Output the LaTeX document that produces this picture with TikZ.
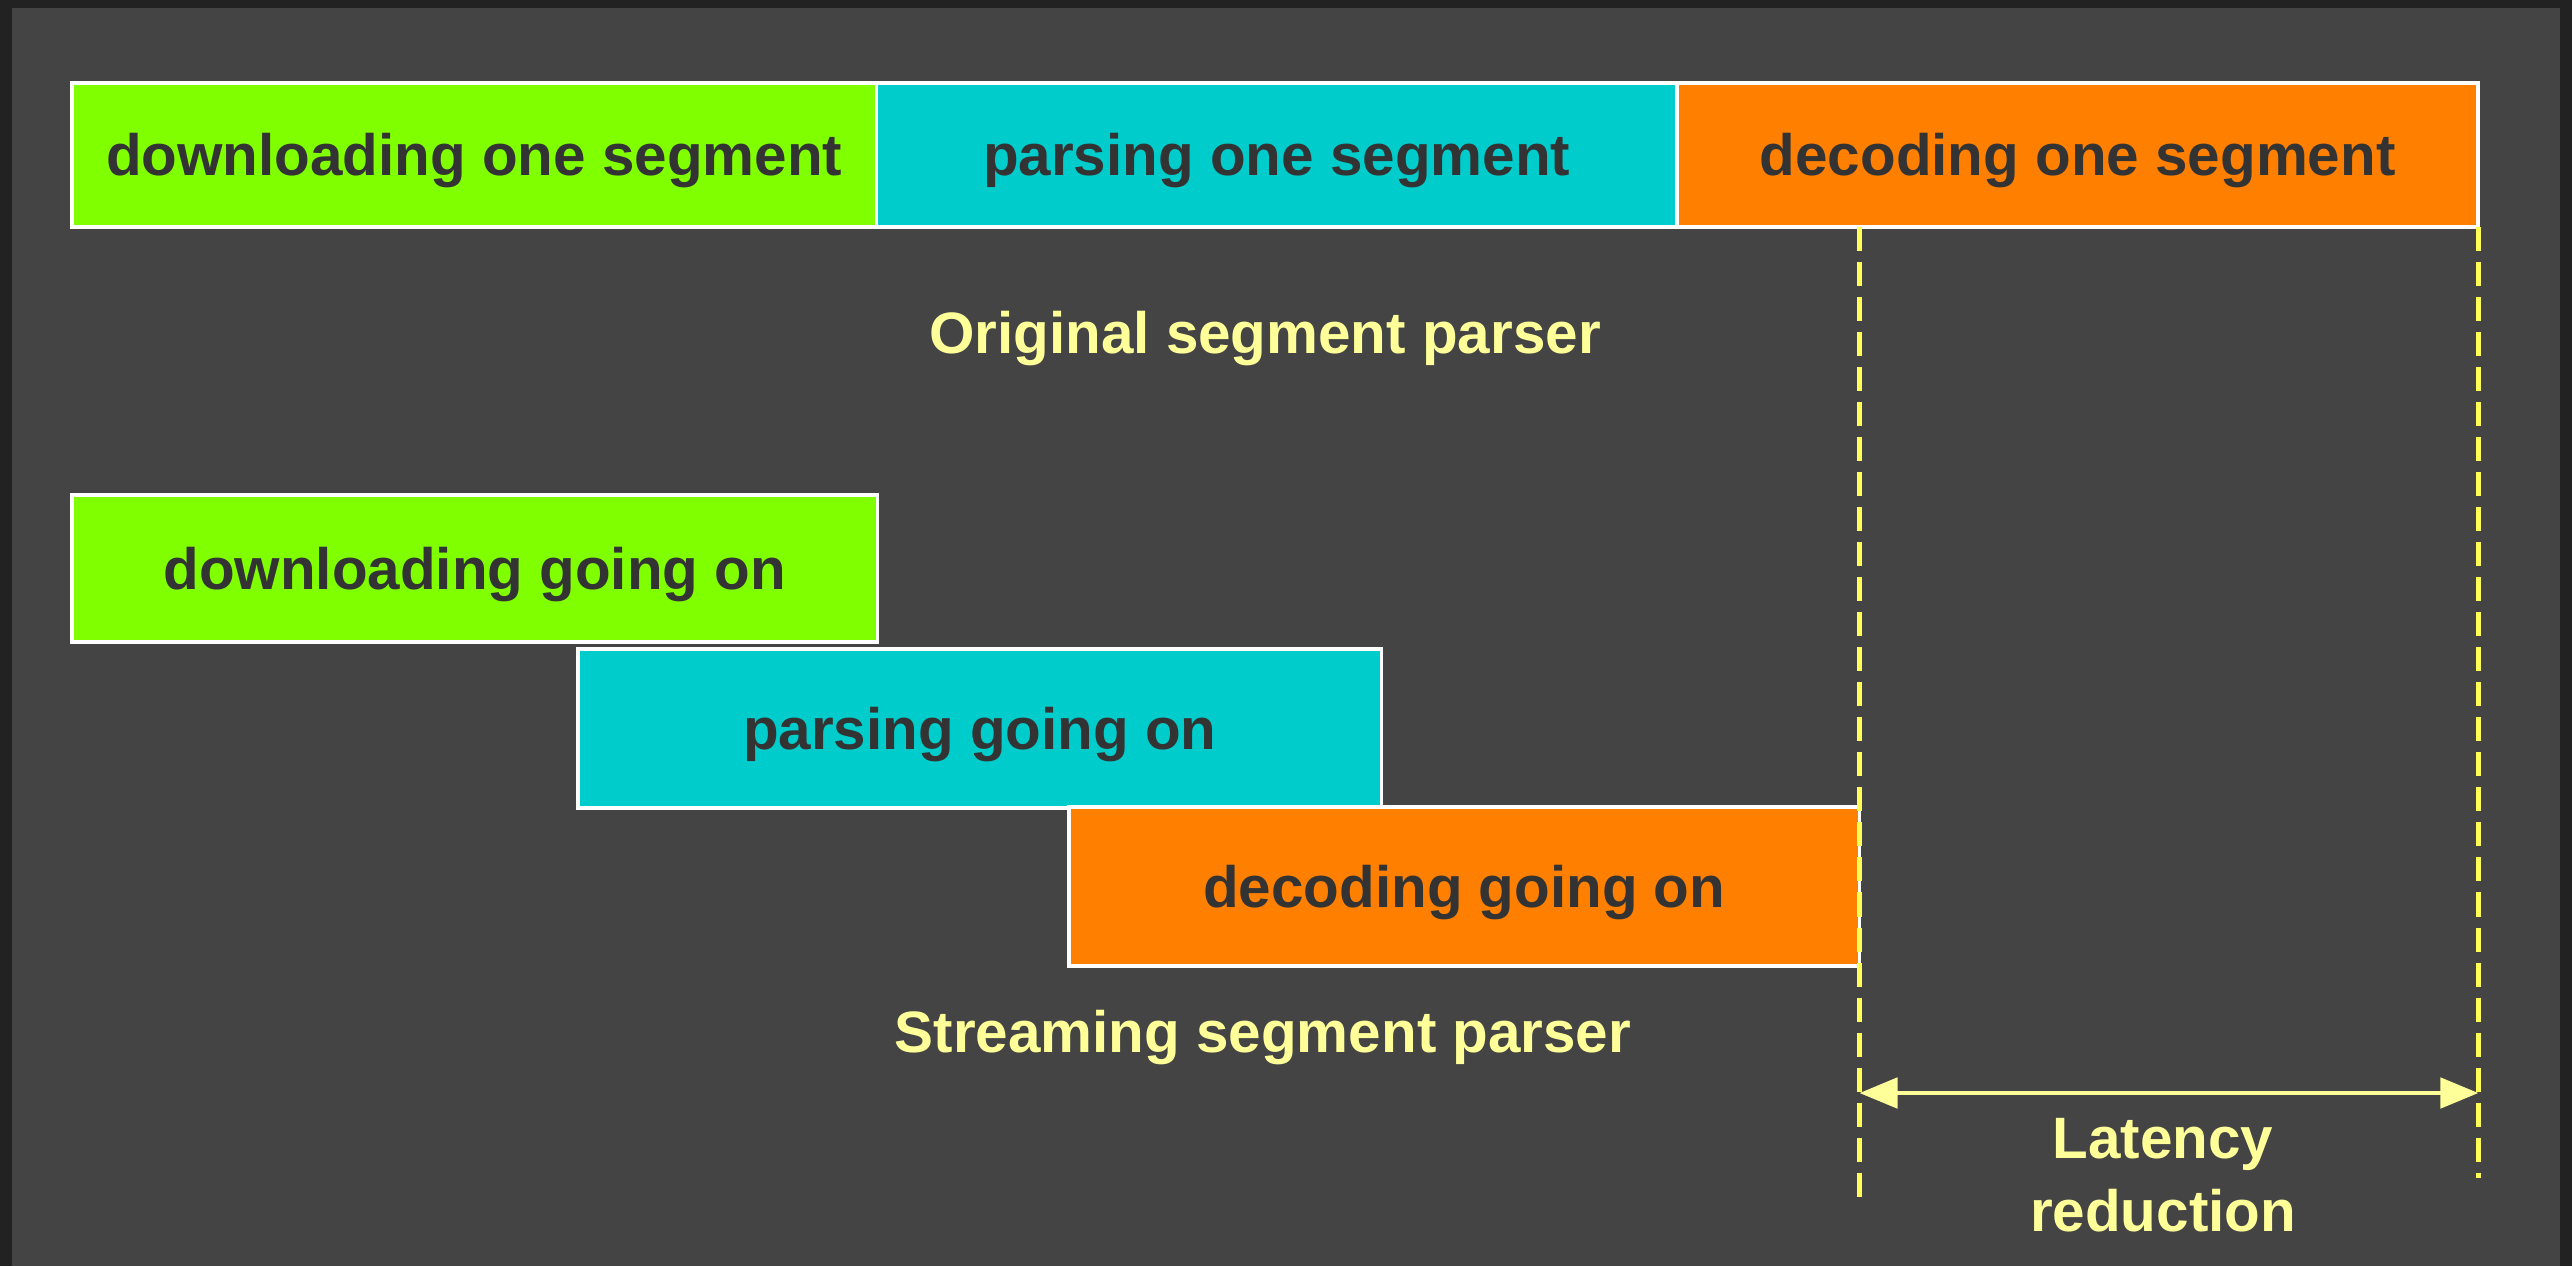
\documentclass[tikz,border=0pt]{standalone}
\usepackage{fontspec}
\setmainfont{Liberation Sans}
\usetikzlibrary{arrows.meta}
\definecolor{frame}{HTML}{222222}
\definecolor{panel}{HTML}{444444}
\definecolor{dlgreen}{HTML}{80FF00}
\definecolor{pscyan}{HTML}{00CCCC}
\definecolor{dcorange}{HTML}{FF8000}
\definecolor{ink}{HTML}{333333}
\definecolor{pale}{HTML}{FFFF99}
\definecolor{guide}{HTML}{FFFF55}
\newcommand{\labelfont}{\bfseries\fontsize{16.6pt}{20.8pt}\selectfont}
\begin{document}
\begin{tikzpicture}[
  x=0.01cm, y=-0.01cm,
  bar/.style={draw=white, line width=1.1pt, text=ink, font=\labelfont, inner sep=0pt, outer sep=0pt,
    text height=15pt, text depth=3.2pt, anchor=north west},
  note/.style={text=pale, font=\labelfont, align=center},
  guideline/.style={draw=guide, line width=1.4pt, dash pattern=on 0.24cm off 0.11cm},
  span/.style={draw=pale, line width=1.4pt, {Triangle[length=0.38cm, width=0.3cm]}-{Triangle[length=0.38cm, width=0.3cm]}}
]
\useasboundingbox (0,0) rectangle (2572,1266);
\fill[frame] (0,0) rectangle (2572,1266);
\fill[panel] (12,8) rectangle (2560,1266);
% original parser: one stage after the other
\node[bar, fill=dlgreen, minimum width=8.04cm, minimum height=1.44cm] (dl1) at (72,83) {downloading one segment};
\node[bar, fill=pscyan, minimum width=8.00cm, minimum height=1.44cm] (ps1) at (dl1.north east) {parsing one segment};
\node[bar, fill=dcorange, minimum width=8.01cm, minimum height=1.44cm] (dc1) at (ps1.north east) {decoding one segment};
\node[note] (orig) at (1265,339) {Original segment parser};
% streaming parser: stages overlap
\node[bar, fill=dlgreen, minimum width=8.05cm, minimum height=1.47cm] (dl2) at (72,495) {downloading going on};
\node[bar, fill=pscyan, minimum width=8.03cm, minimum height=1.59cm] (ps2) at (578,649) {parsing going on};
\node[bar, fill=dcorange, minimum width=7.90cm, minimum height=1.59cm] (dc2) at (1069,807) {decoding going on};
\node[note] (strm) at (1263,1038) {Streaming segment parser};
% latency gain
\coordinate (ga) at (dc2.east |- dc1.south);
\coordinate (gaend) at (ga |- 0,1202);
\coordinate (gb) at (dc1.south east);
\coordinate (gbend) at (gb |- 0,1178);
\coordinate (la) at (ga |- 0,1093);
\coordinate (lb) at (gb |- 0,1093);
\draw[guideline] (ga) -- (gaend);
\draw[guideline] (gb) -- (gbend);
\draw[span] (la) -- (lb);
\node[note] (gain) at (2163,1175) {Latency\\reduction};
\end{tikzpicture}
\end{document}
